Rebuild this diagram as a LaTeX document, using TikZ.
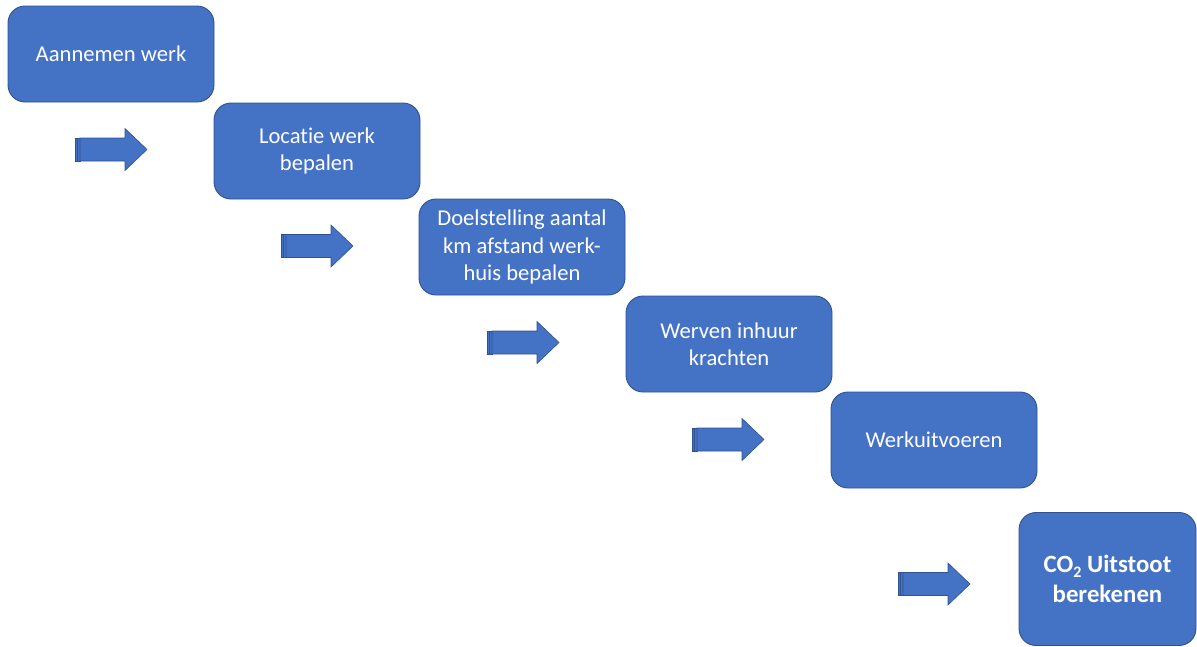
\documentclass[tikz,border=0pt]{standalone}
\usepackage{fontspec}
\setmainfont{Carlito}[Ligatures=NoCommon]
\definecolor{boxfill}{HTML}{4472C4}
\definecolor{boxline}{HTML}{2F528F}
\tikzset{
  stepbox/.style={draw=boxline, line width=0.9pt, fill=boxfill, rounded corners=17pt,
    text=white, align=center, inner sep=0pt,
    font=\fontsize{22.6}{27.5}\selectfont},
  arrowshape/.style={draw=boxline, line width=0.6pt, fill=boxfill},
}
\newcommand\stripearrow[2]{%
  \draw[arrowshape] (#1,#2-11.5) rectangle (#1+2.5,#2+11.5);
  \draw[arrowshape] (#1+2.5,#2-11.5) rectangle (#1+5,#2+11.5);
  \draw[arrowshape] (#1+5,#2-11.5) -- (#1+50,#2-11.5) -- (#1+50,#2-21) -- (#1+72,#2)
     -- (#1+50,#2+21) -- (#1+50,#2+11.5) -- (#1+5,#2+11.5) -- cycle;
}
\begin{document}
\begin{tikzpicture}[x=1pt,y=-1pt]
\useasboundingbox (0,0) rectangle (1197,646);
\node[stepbox, minimum width=206pt, minimum height=96pt] (b1) at (111,54) {Aannemen werk};
\node[stepbox, minimum width=206pt, minimum height=96pt] (b2) at (317,151) {Locatie werk\\bepalen};
\node[stepbox, minimum width=206pt, minimum height=96pt] (b3) at (522,247) {Doelstelling aantal\\km afstand werk-\\huis bepalen};
\node[stepbox, minimum width=206pt, minimum height=96pt] (b4) at (729,344) {Werven inhuur\\krachten};
\node[stepbox, minimum width=206pt, minimum height=96pt] (b5) at (934,440) {Werkuitvoeren};
\node[stepbox, minimum width=177pt, minimum height=133pt, font=\fontsize{24.8}{30}\selectfont\bfseries] (b6) at (1107.5,579)
  {CO{\fontsize{16}{16}\selectfont\raisebox{-4.5pt}{2}} Uitstoot\\berekenen};
\stripearrow{75}{149.5}
\stripearrow{281}{246}
\stripearrow{487}{342.5}
\stripearrow{692}{439.5}
\stripearrow{898}{584}
\end{tikzpicture}
\end{document}
